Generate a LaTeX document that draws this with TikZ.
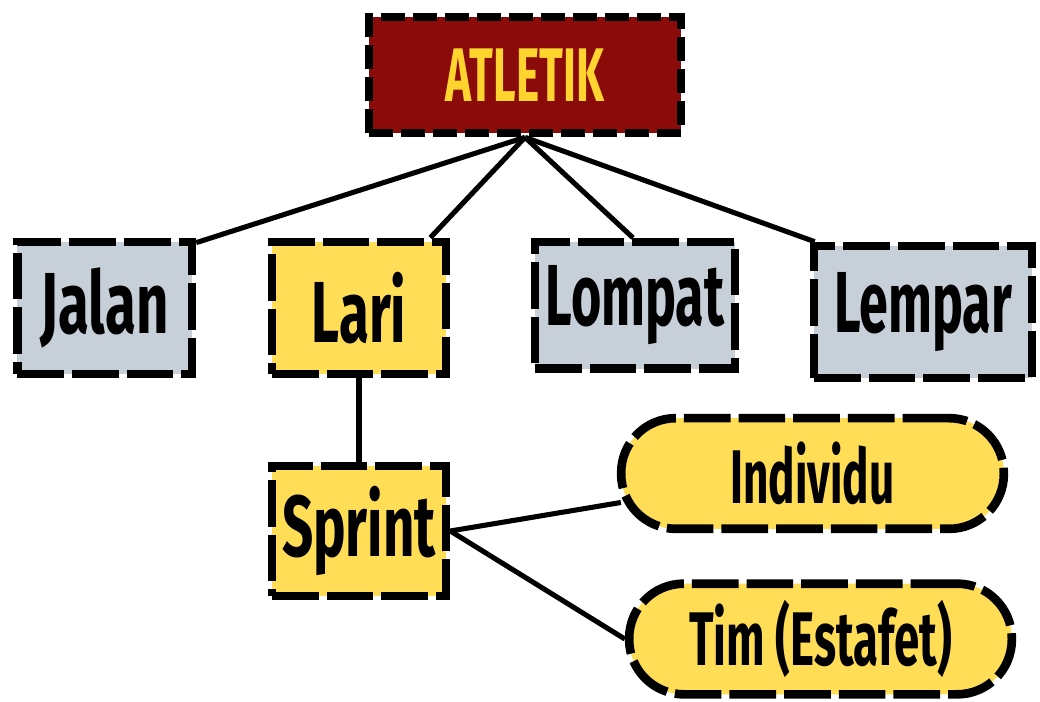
\documentclass[tikz,border=0pt]{standalone}
\usepackage{fontspec}
\setmainfont{Fira Sans}
\usetikzlibrary{calc,backgrounds}
\definecolor{rootred}{HTML}{8B0B0A}
\definecolor{rootyel}{HTML}{FFD42E}
\definecolor{boxyel}{HTML}{FFDD57}
\definecolor{boxgrey}{HTML}{C7CFD9}
\newcommand{\cnd}[1]{\scalebox{0.6}[1]{#1}}
\tikzset{
  base/.style={draw=black, line width=6.5pt, dash pattern=on 35pt off 6pt, inner sep=0pt, font=\bfseries},
  rootbox/.style={base, dash pattern=on 18pt off 6pt, fill=rootred, text=rootyel, minimum width=234pt, minimum height=87pt, font=\fontsize{57}{60}\selectfont\bfseries},
  greybox/.style={base, fill=boxgrey, text=black, minimum height=99pt, font=\fontsize{65}{68}\selectfont\bfseries},
  yelbox/.style={base, fill=boxyel, text=black, minimum height=99pt, font=\fontsize{65}{68}\selectfont\bfseries},
  pill/.style={base, fill=boxyel, text=black, rounded corners=41pt, minimum width=287pt, minimum height=83pt, font=\fontsize{57}{60}\selectfont\bfseries},
  conn/.style={draw=black, line width=3.8pt}
}
\begin{document}
\begin{tikzpicture}[x=0.75pt,y=-0.75pt]
\useasboundingbox (0,0) rectangle (1040,702);
\node[rootbox] (root) at (525,75) {\scalebox{0.58}[1]{ATLETIK}};
\node[greybox, minimum width=131pt] (jalan) at (104.5,308) {\scalebox{0.65}[1]{Jalan}};
\node[yelbox, minimum width=130.5pt] (lari) at (359,308) {\scalebox{0.63}[1]{Lari}};
\node[greybox, minimum width=150pt, minimum height=95pt] (lompat) at (635,305.5) {\cnd{Lompat}};
\node[greybox, minimum width=163.5pt] (lempar) at (923,312) {\cnd{Lempar}};
\node[yelbox, minimum width=130.5pt, minimum height=97.5pt] (sprint) at (359,531) {\scalebox{0.63}[1]{Sprint}};
\node[pill] (ind) at (812.5,473.5) {\scalebox{0.58}[1]{Individu}};
\node[pill] (tim) at (820.5,639) {\cnd{Tim (Estafet)}};
\begin{scope}[on background layer]
\draw[conn] (root.south) -- ($(jalan.north east)+(0,5)$);
\draw[conn] (root.south) -- ($(lari.north east)+(-20,0)$);
\draw[conn] (root.south) -- ($(lompat.north)+(-2,0)$);
\draw[conn] (root.south) -- ($(lempar.north west)+(5,0)$);
\draw[conn] (lari.south) -- (sprint.north);
\draw[conn] (sprint.east) -- ($(ind.west)+(4,29)$);
\draw[conn] (sprint.east) -- (tim.west);
\end{scope}
\end{tikzpicture}
\end{document}
